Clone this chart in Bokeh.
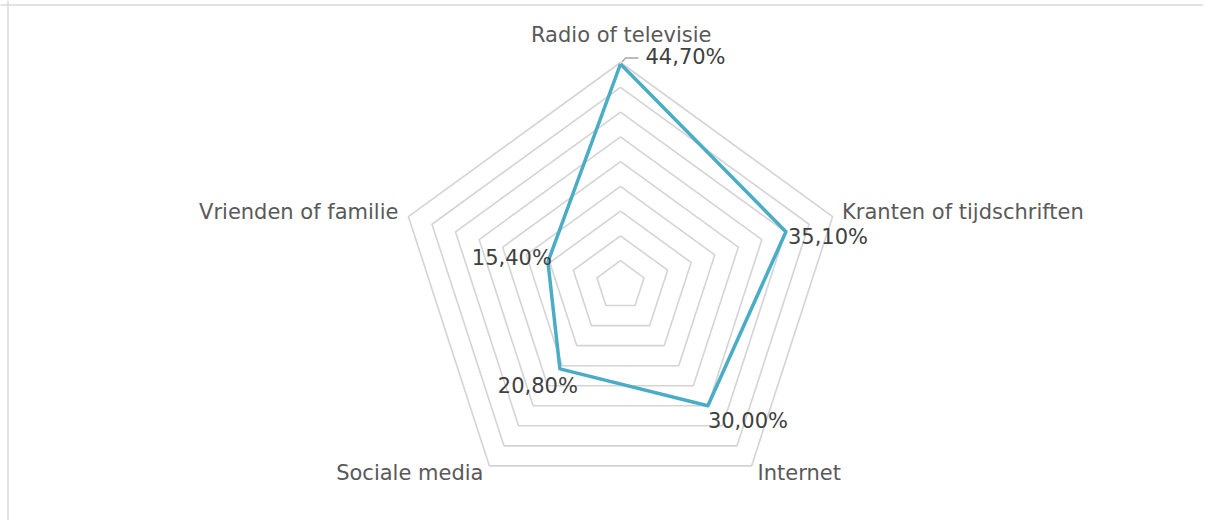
import numpy as np
from bokeh.plotting import figure
from bokeh.models import Range1d, Span
from bokeh.core.properties import value
from bokeh.embed import file_html
from bokeh.resources import INLINE

# ---- data ----
categories = ["Radio of televisie", "Kranten of tijdschriften", "Internet",
              "Sociale media", "Vrienden of familie"]
values = [44.7, 35.1, 30.0, 20.8, 15.4]
value_labels = ["44,70%", "35,10%", "30,00%", "20,80%", "15,40%"]
ring_levels = [5, 10, 15, 20, 25, 30, 35, 40, 45]

# ---- layout ----
W, H = 1203, 520
S = 223 / 45.0           # px per percentage point
CX, CY = 620, 285        # centre in figure px (from top-left)
x_start, x_end = -CX / S, (W - CX) / S
y_end, y_start = CY / S, -(H - CY) / S
TEXT_SHIFT = -8          # px vertical correction for text baseline

n = len(categories)
angles = np.deg2rad(90 - 360.0 / n * np.arange(n))
cosa, sina = np.cos(angles), np.sin(angles)

p = figure(width=W, height=H, output_backend="svg", toolbar_location=None,
           x_range=Range1d(x_start, x_end), y_range=Range1d(y_start, y_end),
           x_axis_type=None, y_axis_type=None, min_border=0,
           background_fill_color="white", border_fill_color="white")
p.grid.visible = False
p.outline_line_color = None

# chart border (left / top visible)
p.add_layout(Span(location=x_start + 7.5 / S, dimension="height",
                  line_color="#D9D9D9", line_width=1.5))
p.add_layout(Span(location=y_end - 4.5 / S, dimension="width",
                  line_color="#D9D9D9", line_width=1.5))

# pentagon grid rings
xs_r, ys_r = [], []
for lv in ring_levels:
    xs_r.append(list(np.append(lv * cosa, lv * cosa[0])))
    ys_r.append(list(np.append(lv * sina, lv * sina[0])))
p.multi_line(xs_r, ys_r, line_color="#D4D4D4", line_width=1.6)

# data polygon
vals = np.array(values)
dx = np.append(vals * cosa, vals[0] * cosa[0])
dy = np.append(vals * sina, vals[0] * sina[0])
p.line(dx, dy, line_color="#4BACC6", line_width=3.5, line_join="round")

# leader line for top label
vx, vy = values[0] * cosa[0], values[0] * sina[0]
p.line([vx + 1.5 / S, vx + 5 / S, vx + 18 / S],
       [vy + 2 / S, vy + 6 / S, vy + 6 / S],
       line_color="#A6A6A6", line_width=1.3)

font = value("DejaVu Sans")
outer = ring_levels[-1]

# category labels: (dx px right, dy px down, align)
cat_off = [(0.7, -19.3, "center"), (9.5, 3, "left"), (6, 15.3, "left"),
           (-6, 15, "right"), (-10, 3, "right")]
for i, name in enumerate(categories):
    ox, oy, al = cat_off[i]
    oy += TEXT_SHIFT
    p.text(x=[outer * cosa[i] + ox / S], y=[outer * sina[i] - oy / S], text=[name],
           text_align=al, text_baseline="alphabetic", text_font=font,
           text_font_size="21px", text_color="#595959")

# value labels
val_off = [(25, 1.5, "left"), (2, 13, "left"), (0, 23, "left"),
           (18, 25.6, "right"), (4, 4, "right")]
for i, lab in enumerate(value_labels):
    ox, oy, al = val_off[i]
    oy += TEXT_SHIFT
    p.text(x=[values[i] * cosa[i] + ox / S], y=[values[i] * sina[i] - oy / S], text=[lab],
           text_align=al, text_baseline="alphabetic", text_font=font,
           text_font_size="21px", text_color="#404040")

open("out.html", "w").write(file_html(p, INLINE))
